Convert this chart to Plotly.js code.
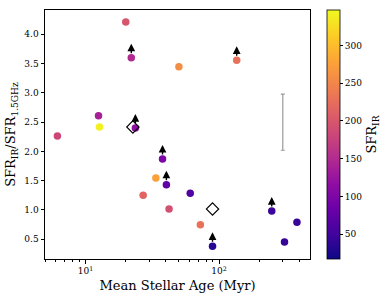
<!DOCTYPE html>
<html><head><meta charset="utf-8">
<script src="https://cdn.plot.ly/plotly-3.0.1.min.js"></script>
<style>html,body{margin:0;padding:0;background:#fff}#c{width:391px;height:299px}</style>
</head><body><div id="c"></div>
<script>
// Data
const age      = [6.15, 20.0, 22.0, 50.0, 135.5, 12.5, 12.7, 23.6, 37.7, 33.6, 40.3, 27.0, 60.8, 42.2, 72.4, 89.3, 248, 309, 383];
const ratio    = [2.264, 4.21, 3.60, 3.447, 3.556, 2.61, 2.417, 2.40, 1.871, 1.546, 1.432, 1.251, 1.285, 1.017, 0.749, 0.380, 0.983, 0.454, 0.79];
const sfrIR    = [182, 199, 149, 258, 228, 139, 340, 116, 100, 275, 73, 215, 63, 192, 228, 33, 47, 43, 44];
const lowerLim = [0, 0, 1, 0, 1, 0, 0, 1, 1, 0, 1, 0, 0, 0, 0, 1, 1, 0, 0];
const diamondAge   = [22.6, 89.3];
const diamondRatio = [2.417, 1.017];
const errAge   = [300];
const errRatio = [2.5];
const errSize  = [0.48];
const xTickVals = [10, 100];
const xTickText = ['10<sup>1</sup>', '10<sup>2</sup>'];
const xMinorVals = [5, 6, 7, 8, 9, 20, 30, 40, 50, 60, 70, 80, 90, 200, 300, 400];
const yTickVals = [0.5, 1.0, 1.5, 2.0, 2.5, 3.0, 3.5, 4.0];
const cbTickVals = [50, 100, 150, 200, 250, 300];

const plasma = [
  [0.0,'#0d0887'],[0.1,'#41049d'],[0.2,'#6a00a8'],[0.3,'#8f0da4'],[0.4,'#b12a90'],
  [0.5,'#cc4778'],[0.6,'#e16462'],[0.7,'#f2844b'],[0.8,'#fca636'],[0.9,'#fcce25'],[1.0,'#f0f921']
];
const font = {family: 'DejaVu Serif', color: '#000'};

const traces = [
  {
    x: errAge, y: errRatio, type: 'scatter', mode: 'markers',
    marker: {size: 0.1, color: 'rgba(0,0,0,0)'},
    error_y: {type: 'data', array: errSize, visible: true, color: '#999', thickness: 1.2, width: 2},
    hoverinfo: 'skip', showlegend: false
  },
  {
    x: age, y: ratio, type: 'scatter', mode: 'markers',
    marker: {
      size: 7.5, color: sfrIR, colorscale: plasma, cmin: 17, cmax: 347,
      line: {width: 0},
      colorbar: {
        x: 1.063, xanchor: 'left', y: 0.5, yanchor: 'middle', len: 1, lenmode: 'fraction',
        thickness: 13, xpad: 0, ypad: 0, outlinewidth: 0.8, outlinecolor: '#000',
        tickvals: cbTickVals, ticks: 'outside', ticklen: 3, tickcolor: '#000',
        tickfont: Object.assign({size: 9}, font),
        title: {text: 'SFR<sub>IR</sub>', side: 'right', font: Object.assign({size: 13}, font)}
      }
    },
    showlegend: false
  },
  {
    x: diamondAge, y: diamondRatio, type: 'scatter', mode: 'markers',
    marker: {symbol: 'diamond-open', size: 9.5, color: '#000', line: {width: 1.1, color: '#000'}},
    showlegend: false
  }
];

const annotations = [];
for (let i = 0; i < age.length; i++) {
  if (!lowerLim[i]) continue;
  const lx = Math.log10(age[i]);
  annotations.push({
    x: lx, y: ratio[i] + 0.24, ax: lx, ay: ratio[i], axref: 'x', ayref: 'y', xref: 'x', yref: 'y',
    showarrow: true, arrowhead: 2, arrowsize: 1.1, arrowwidth: 1.4, arrowcolor: '#000',
    startstandoff: 3, text: ''
  });
}

const layout = {
  width: 391, height: 299,
  margin: {l: 45, r: 78, t: 10, b: 40},
  paper_bgcolor: '#fff', plot_bgcolor: '#fff',
  font: Object.assign({size: 9}, font),
  xaxis: {
    type: 'log', range: [0.696, 2.681],
    tickvals: xTickVals, ticktext: xTickText, ticks: 'outside', ticklen: 3.5, tickcolor: '#000',
    minor: {tickvals: xMinorVals, ticks: 'outside', ticklen: 2, tickcolor: '#000'},
    showline: true, mirror: true, linecolor: '#000', linewidth: 1,
    showgrid: false, zeroline: false,
    tickfont: Object.assign({size: 9}, font),
    title: {text: 'Mean Stellar Age (Myr)', font: Object.assign({size: 13}, font), standoff: 5}
  },
  yaxis: {
    range: [0.163, 4.415],
    tickvals: yTickVals, tickformat: '.1f', ticks: 'outside', ticklen: 3.5, tickcolor: '#000',
    showline: true, mirror: true, linecolor: '#000', linewidth: 1,
    showgrid: false, zeroline: false,
    tickfont: Object.assign({size: 9}, font),
    title: {text: 'SFR<sub>IR</sub>/SFR<sub>1.5GHz</sub>', font: Object.assign({size: 13}, font), standoff: 5}
  },
  annotations: annotations
};

Plotly.newPlot('c', traces, layout, {staticPlot: true, displayModeBar: false});
</script>
</body></html>
